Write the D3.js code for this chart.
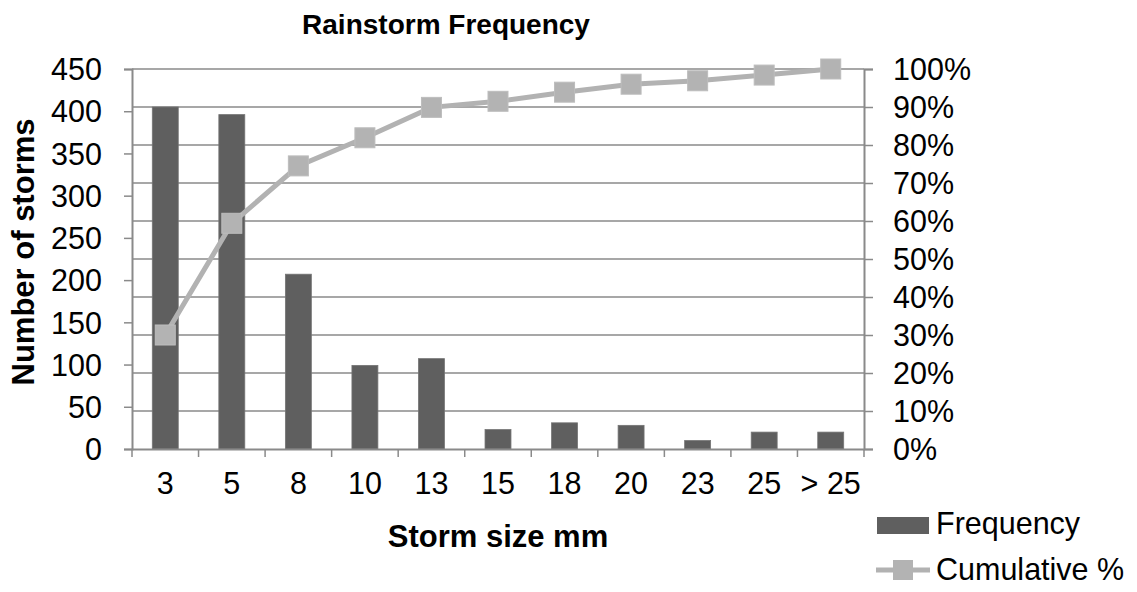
<!DOCTYPE html>
<html><head><meta charset="utf-8">
<script src="https://cdn.jsdelivr.net/npm/d3@7"></script>
<style>body{margin:0;background:#fff}svg{display:block}text{font-family:"Liberation Sans",Arial,sans-serif;fill:#000}</style>
</head><body>
<svg id="c" width="1137" height="592"></svg>
<script>
const categories = ["3","5","8","10","13","15","18","20","23","25","> 25"];
const frequency = [405,396,207,99,107,23,31,28,10,20,20];
const cumulativePct = [30.0,59.4,74.5,81.9,89.9,91.5,93.9,96.0,96.9,98.4,100];
const leftTicks = [0,50,100,150,200,250,300,350,400,450];
const rightTicks = [0,10,20,30,40,50,60,70,80,90,100];

const svg = d3.select("#c");
const M = {l:132, r:864, t:69, b:449};
const x = d3.scaleBand().domain(categories).range([M.l, M.r]).paddingInner(0.61).paddingOuter(0.305);
const xs = d3.scaleBand().domain(categories).range([M.l, M.r]);
const yL = d3.scaleLinear().domain([0,450]).range([M.b, M.t]);
const yR = d3.scaleLinear().domain([0,100]).range([M.b, M.t]);
const axisCol = "#8a8a8a";
const FS = 30.5;

// gridlines (secondary axis)
svg.append("g").selectAll("line").data(rightTicks.slice(1)).join("line")
  .attr("x1", M.l).attr("x2", M.r).attr("y1", d=>yR(d)).attr("y2", d=>yR(d))
  .attr("stroke", axisCol).attr("stroke-width", 1.5);

// bars
svg.append("g").selectAll("rect").data(frequency).join("rect")
  .attr("x", (d,i)=>x(categories[i])).attr("width", x.bandwidth())
  .attr("y", d=>yL(d)).attr("height", d=>M.b - yL(d))
  .attr("fill", "#5f5f5f").attr("stroke", "#747474").attr("stroke-width", 0.8);

// left axis
const gL = svg.append("g").attr("transform", `translate(${M.l},0)`)
  .call(d3.axisLeft(yL).tickValues(leftTicks).tickSize(8).tickPadding(22));
// right axis
const gR = svg.append("g").attr("transform", `translate(${M.r},0)`)
  .call(d3.axisRight(yR).tickValues(rightTicks).tickSize(9).tickPadding(20).tickFormat(d=>d+"%"));
// bottom axis (ticks at category boundaries)
const gB = svg.append("g").attr("transform", `translate(0,${M.b})`)
  .call(d3.axisBottom(xs).tickSize(0).tickPadding(23));
const bounds = d3.range(categories.length+1).map(i=>M.l + i*xs.step());
svg.append("g").selectAll("line").data(bounds).join("line")
  .attr("x1", d=>d).attr("x2", d=>d).attr("y1", M.b).attr("y2", M.b+8)
  .attr("stroke", axisCol).attr("stroke-width", 1.5);

[gL,gR,gB].forEach(g=>{
  g.select(".domain").attr("stroke", axisCol).attr("stroke-width", 2);
  g.selectAll(".tick line").attr("stroke", axisCol).attr("stroke-width", 1.5);
  g.selectAll(".tick text").attr("font-size", FS).attr("font-family", '"Liberation Sans",Arial,sans-serif').attr("fill","#000");
});
gL.selectAll(".tick text").attr("dy", "0.35em");
gR.selectAll(".tick text").attr("dy", "0.35em");
gB.selectAll(".tick text").attr("dy", "0.71em");

// cumulative line
const line = d3.line().x((d,i)=>xs(categories[i]) + xs.bandwidth()/2).y(d=>yR(d));
svg.append("path").datum(cumulativePct).attr("d", line)
  .attr("fill","none").attr("stroke","#b2b2b2").attr("stroke-width",5);
svg.append("g").selectAll("rect").data(cumulativePct).join("rect")
  .attr("x", (d,i)=>xs(categories[i]) + xs.bandwidth()/2 - 10)
  .attr("y", d=>yR(d)-10).attr("width",20).attr("height",20)
  .attr("fill","#b3b3b3").attr("stroke","#bdbdbd").attr("stroke-width",1);

// titles
svg.append("text").attr("x", 446).attr("y", 34).attr("text-anchor","middle")
  .attr("font-size", 28).attr("font-weight","bold")
  .text("Rainstorm Frequency");
svg.append("text").attr("x", 498).attr("y", 547).attr("text-anchor","middle")
  .attr("font-size", 31).attr("font-weight","bold")
  .text("Storm size mm");
svg.append("text").attr("transform","translate(34,252) rotate(-90)").attr("text-anchor","middle")
  .attr("font-size", 31).attr("font-weight","bold")
  .text("Number of storms");

// legend
const lg = svg.append("g");
lg.append("rect").attr("x",877).attr("y",517).attr("width",52).attr("height",17).attr("fill","#5f5f5f");
lg.append("text").attr("x",936).attr("y",534).attr("font-size",FS).text("Frequency");
lg.append("line").attr("x1",876).attr("x2",930).attr("y1",570).attr("y2",570).attr("stroke","#b2b2b2").attr("stroke-width",5);
lg.append("rect").attr("x",893).attr("y",560).attr("width",20).attr("height",20).attr("fill","#b3b3b3");
lg.append("text").attr("x",936).attr("y",580).attr("font-size",FS).text("Cumulative %");
</script>
</body></html>
